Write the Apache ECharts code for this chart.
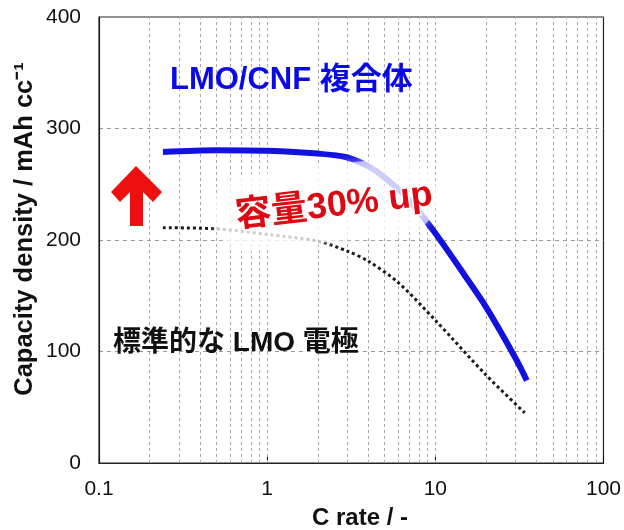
<!DOCTYPE html>
<html>
<head>
<meta charset="utf-8">
<script src="https://cdn.jsdelivr.net/npm/echarts@6/dist/echarts.min.js"></script>
<style>html,body{margin:0;padding:0;background:#fff}#c{width:624px;height:530px}</style>
</head>
<body>
<div id="c"></div>
<script>
var FONT = '"Liberation Sans", Arial, "Noto Sans CJK JP", sans-serif';
var blueX = [0.24, 0.5, 1, 2, 3, 4, 5, 7, 10, 15, 20, 30, 35];
var blueY = [279, 280.5, 280, 277.5, 274, 266, 256, 236, 206, 168, 140, 94, 74];
var blackX = [0.24, 0.5, 1, 2, 3, 4, 6, 10, 20, 34];
var blackY = [211, 210, 205, 199, 190, 181, 162, 128, 79, 45];
var gridXs = [0.2,0.3,0.4,0.5,0.6,0.7,0.8,0.9,1,2,3,4,5,6,7,8,9,10,20,30,40,50,60,70,80,90];
var yTicks = [0, 100, 200, 300, 400];
var xTickLabels = [0.1, 1, 10, 100];
var xName = 'C rate / -';
var yName = 'Capacity density / mAh cc\u207B\u00B9';

function zip(a, b) { return a.map(function (v, i) { return [v, b[i]]; }); }

var chart = echarts.init(document.getElementById('c'));
chart.setOption({
  animation: false,
  backgroundColor: '#fff',
  grid: { left: 99, right: 17, top: 17, bottom: 67, show: true, borderColor: '#222', borderWidth: 1.2, backgroundColor: 'transparent' },
  xAxis: {
    type: 'log', logBase: 10, min: 0.1, max: 100,
    axisLine: { show: true, lineStyle: { color: '#222', width: 1.2 } },
    axisTick: { show: true, inside: true, length: 6, lineStyle: { color: '#111' } },
    axisLabel: { fontFamily: FONT, fontSize: 21, color: '#111', margin: 16,
      formatter: function (v) { return xTickLabels.indexOf(+v.toPrecision(3)) >= 0 ? String(+v.toPrecision(3)) : ''; } },
    splitLine: { show: false }
  },
  yAxis: {
    type: 'value', min: 0, max: 400, interval: 100,
    axisLine: { show: true, lineStyle: { color: '#222', width: 1.2 } },
    axisTick: { show: false },
    axisLabel: { fontFamily: FONT, fontSize: 21, color: '#111', margin: 18,
      formatter: function (v) { return yTicks.indexOf(v) >= 0 ? String(v) : ''; } },
    splitLine: { show: true, lineStyle: { color: '#9a9a9a', type: [4, 4], width: 1 } }
  },
  series: [
    {
      type: 'line', data: [], z: 1, silent: true,
      markLine: {
        silent: true, symbol: 'none', z: 1,
        label: { show: false },
        lineStyle: { color: '#a8a8a8', type: [3, 3], width: 1 },
        data: gridXs.map(function (v) { return { xAxis: v }; })
      }
    },
    {
      type: 'line', data: zip(blackX, blackY), smooth: 0.3, showSymbol: false, z: 3,
      lineStyle: { color: '#1a1a1a', width: 3, type: [3, 3], cap: 'butt' }
    },
    {
      type: 'line', data: zip(blueX, blueY), smooth: 0.3, showSymbol: false, z: 4,
      lineStyle: { color: '#1212e0', width: 6, cap: 'butt' }
    }
  ],
  graphic: [
    {
      type: 'rect', z: 50, x: 325, y: 204, rotation: 7 * Math.PI / 180,
      shape: { x: -112, y: -38, width: 224, height: 76, r: 34 },
      style: { fill: 'rgba(255,255,255,0.6)', shadowBlur: 10, shadowColor: 'rgba(255,255,255,0.8)' }
    },
    {
      type: 'text', z: 60, x: 334, y: 206, rotation: 6.5 * Math.PI / 180,
      style: { text: '容量30% up', fontFamily: FONT, fontSize: 36, fontWeight: 'bold', fill: '#dd0a14',
        align: 'center', verticalAlign: 'middle', stroke: '#fff', lineWidth: 3 }
    },
    {
      type: 'text', z: 60, x: 170, y: 80,
      style: { text: 'LMO/CNF 複合体', fontFamily: FONT, fontSize: 31, fontWeight: 'bold', fill: '#0a0ae6',
        align: 'left', verticalAlign: 'middle' }
    },
    {
      type: 'text', z: 60, x: 113, y: 343,
      style: { text: '標準的な LMO 電極', fontFamily: FONT, fontSize: 28, fontWeight: 'bold', fill: '#111',
        align: 'left', verticalAlign: 'middle' }
    },
    {
      type: 'polygon', z: 60,
      shape: { points: [[136,166],[162,192],[153,202],[143,192],[143,226],[130,226],[130,192],[120,202],[111,192]] },
      style: { fill: '#ee1010' }
    },
    {
      type: 'text', z: 60, x: 360, y: 518,
      style: { text: xName, fontFamily: FONT, fontSize: 24, fontWeight: 'bold', fill: '#111',
        align: 'center', verticalAlign: 'middle' }
    },
    {
      type: 'text', z: 60, x: 25, y: 229, rotation: Math.PI / 2,
      style: { text: yName, fontFamily: FONT, fontSize: 25.5, fontWeight: 'bold', fill: '#111',
        align: 'center', verticalAlign: 'middle' }
    }
  ]
});
</script>
</body>
</html>
